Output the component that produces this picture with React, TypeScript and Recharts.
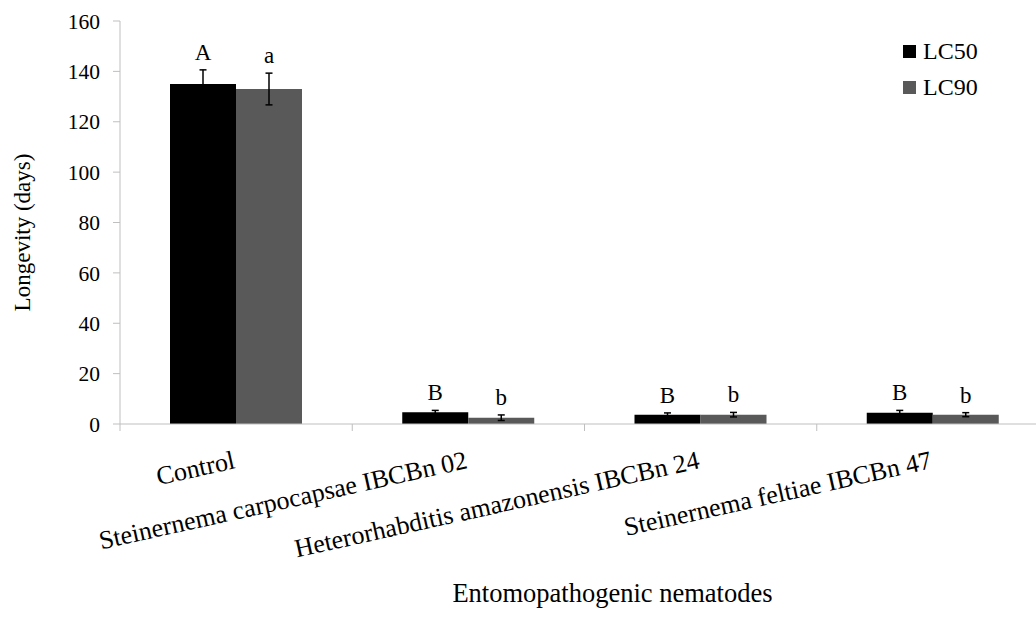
import React from "react";
import { BarChart, Bar, XAxis, YAxis, ErrorBar, LabelList, Legend, Label } from "recharts";

const categories = [
  "Control",
  "Steinernema carpocapsae IBCBn 02",
  "Heterorhabditis amazonensis IBCBn 24",
  "Steinernema feltiae IBCBn 47",
];
const lc50 = [135, 4.7, 3.7, 4.5];
const lc50Err = [5.6, 0.7, 0.7, 0.9];
const lc90 = [133, 2.5, 3.7, 3.7];
const lc90Err = [6.3, 1.1, 0.9, 0.8];
const lc50Letters = ["A", "B", "B", "B"];
const lc90Letters = ["a", "b", "b", "b"];
const yTicks = [0, 20, 40, 60, 80, 100, 120, 140, 160];

const data = categories.map((name, i) => ({
  name,
  lc50: lc50[i],
  lc50Err: lc50Err[i],
  lc90: lc90[i],
  lc90Err: lc90Err[i],
}));

const FONT = '"Liberation Serif", "Times New Roman", serif';
const CHART_W = 1060;
const CHART_H = 634;
const MARGIN = { top: 21, right: 11, left: 0, bottom: 0 };
const Y_AXIS_W = 120;
const PLOT_W = CHART_W - MARGIN.right - MARGIN.left - Y_AXIS_W;
const BAND = PLOT_W / categories.length;
const AXIS_COLOR = "#bfbfbf";
const C50 = "#000000";
const C90 = "#595959";

const XTick = (props: any) => {
  const { x, y, payload, index } = props;
  const tx = x;
  const ty = y + 44;
  return (
    <g>
      <line x1={x - BAND / 2} x2={x - BAND / 2} y1={y} y2={y + 7} stroke={AXIS_COLOR} strokeWidth={1} />
      {index === categories.length - 1 && (
        <line x1={x + BAND / 2} x2={x + BAND / 2} y1={y} y2={y + 7} stroke={AXIS_COLOR} strokeWidth={1} />
      )}
      <text
        x={tx}
        y={ty}
        textAnchor="end"
        transform={`rotate(-12.5, ${tx}, ${ty})`}
        fontFamily={FONT}
        fontSize={26}
        fill="#000"
      >
        {payload.value}
      </text>
    </g>
  );
};

const makeLetter = (letters: string[], errs: number[], values: number[]) => (props: any) => {
  const { x, y, width, height, index } = props;
  const v = values[index];
  const pxPer = v ? height / v : 0;
  const errTop = y - errs[index] * pxPer;
  return (
    <text
      x={x + width / 2}
      y={errTop - 10}
      textAnchor="middle"
      fontFamily={FONT}
      fontSize={23}
      fill="#000"
    >
      {letters[index]}
    </text>
  );
};

const LegendContent = (props: any) => {
  const { payload } = props;
  return (
    <div style={{ fontFamily: FONT, fontSize: 24, color: "#000", lineHeight: "36px" }}>
      {payload.map((p: any, i: number) => (
        <div key={i} style={{ display: "flex", alignItems: "center", height: 36 }}>
          <span
            style={{
              display: "inline-block",
              width: 13,
              height: 13,
              background: p.color,
              marginRight: 7,
            }}
          />
          <span>{p.value}</span>
        </div>
      ))}
    </div>
  );
};

const YTitle = (props: any) => {
  const vb = props.viewBox;
  const cx = 30;
  const cy = vb.y + vb.height / 2 + 10;
  return (
    <text
      x={cx}
      y={cy}
      textAnchor="middle"
      transform={`rotate(-90, ${cx}, ${cy})`}
      fontFamily={FONT}
      fontSize={23}
      fill="#000"
    >
      Longevity (days)
    </text>
  );
};

const XTitle = (props: any) => {
  const vb = props.viewBox;
  return (
    <text
      x={vb.x + vb.width / 2 + 28}
      y={vb.y + 178}
      textAnchor="middle"
      fontFamily={FONT}
      fontSize={26.5}
      fill="#000"
    >
      Entomopathogenic nematodes
    </text>
  );
};

export default function App() {
  return (
    <div
      style={{
        position: "absolute",
        left: 0,
        top: 0,
        width: 1036,
        height: 634,
        overflow: "hidden",
        background: "#fff",
      }}
    >
      <BarChart
        width={CHART_W}
        height={CHART_H}
        data={data}
        margin={MARGIN}
        barCategoryGap={50}
        barGap={0}
      >
        <XAxis
          dataKey="name"
          interval={0}
          height={CHART_H - 424}
          tickLine={false}
          tickSize={0}
          tickMargin={0}
          axisLine={{ stroke: AXIS_COLOR, strokeWidth: 1 }}
          tick={<XTick />}
        >
          <Label content={<XTitle />} />
        </XAxis>
        <YAxis
          width={Y_AXIS_W}
          domain={[0, 160]}
          ticks={yTicks}
          interval={0}
          tickSize={7}
          tickMargin={13}
          axisLine={{ stroke: AXIS_COLOR, strokeWidth: 1 }}
          tickLine={{ stroke: AXIS_COLOR, strokeWidth: 1 }}
          tick={{ fontFamily: FONT, fontSize: 21.5, fill: "#000" }}
        >
          <Label content={<YTitle />} />
        </YAxis>
        <Legend
          align="center"
          verticalAlign="middle"
          layout="horizontal"
          content={<LegendContent />}
          wrapperStyle={{ left: 903, top: 33, width: 130, right: "auto", bottom: "auto" }}
        />
        <Bar dataKey="lc50" name="LC50" fill={C50} isAnimationActive={false}>
          <ErrorBar dataKey="lc50Err" width={3.5} stroke="#000" strokeWidth={1.5} direction="y" />
          <LabelList dataKey="lc50" content={makeLetter(lc50Letters, lc50Err, lc50)} />
        </Bar>
        <Bar dataKey="lc90" name="LC90" fill={C90} isAnimationActive={false}>
          <ErrorBar dataKey="lc90Err" width={3.5} stroke="#000" strokeWidth={1.5} direction="y" />
          <LabelList dataKey="lc90" content={makeLetter(lc90Letters, lc90Err, lc90)} />
        </Bar>
      </BarChart>
    </div>
  );
}
